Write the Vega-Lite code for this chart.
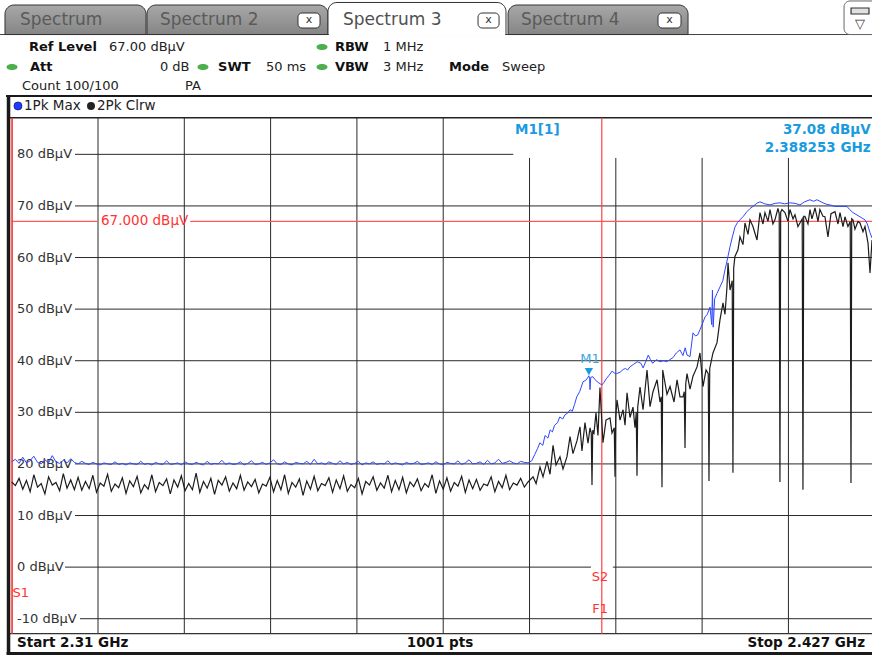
{
"$schema": "https://vega.github.io/schema/vega-lite/v6.json",
"width": 872, "height": 657, "padding": 0, "autosize": {"type": "none"},
"background": "white",
"config": {"view": {"stroke": null}, "axis": {"disable": true}, "text": {"font": "DejaVu Sans"}},
"data": {"values": [{}]},
"datasets": {
"maxhold": [
{"f":2310.0,"v":20.4},{"f":2310.5,"v":20.9},{"f":2311.0,"v":20.1},{"f":2311.5,"v":21.3},{"f":2312.0,"v":20.2},{"f":2312.5,"v":20.6},{"f":2313.0,"v":21.5},{"f":2313.5,"v":20.3},{"f":2314.0,"v":20.0},{"f":2314.5,"v":20.8},
{"f":2315.0,"v":20.2},{"f":2315.5,"v":21.6},{"f":2316.0,"v":20.4},{"f":2316.5,"v":20.1},{"f":2317.0,"v":20.7},{"f":2317.5,"v":20.2},{"f":2318.0,"v":21.0},{"f":2318.5,"v":20.3},{"f":2319.0,"v":20.0},{"f":2319.5,"v":20.5},
{"f":2320.0,"v":20.1},{"f":2320.5,"v":19.9},{"f":2321.0,"v":20.3},{"f":2321.5,"v":20.0},{"f":2322.0,"v":19.8},{"f":2322.5,"v":20.2},{"f":2323.0,"v":20.0},{"f":2323.5,"v":19.9},{"f":2324.0,"v":20.4},{"f":2324.5,"v":19.9},
{"f":2325.0,"v":20.1},{"f":2325.5,"v":19.8},{"f":2326.0,"v":20.2},{"f":2326.5,"v":20.0},{"f":2327.0,"v":19.9},{"f":2327.5,"v":20.5},{"f":2328.0,"v":19.9},{"f":2328.5,"v":20.1},{"f":2329.0,"v":19.8},{"f":2329.5,"v":20.3},
{"f":2330.0,"v":20.0},{"f":2330.5,"v":19.9},{"f":2331.0,"v":20.6},{"f":2331.5,"v":19.9},{"f":2332.0,"v":20.0},{"f":2332.5,"v":20.2},{"f":2333.0,"v":19.8},{"f":2333.5,"v":20.4},{"f":2334.0,"v":20.0},{"f":2334.5,"v":19.9},
{"f":2335.0,"v":20.3},{"f":2335.5,"v":20.0},{"f":2336.0,"v":19.8},{"f":2336.5,"v":20.5},{"f":2337.0,"v":19.9},{"f":2337.5,"v":20.1},{"f":2338.0,"v":20.0},{"f":2338.5,"v":20.7},{"f":2339.0,"v":19.9},{"f":2339.5,"v":20.2},
{"f":2340.0,"v":19.9},{"f":2340.5,"v":20.0},{"f":2341.0,"v":20.4},{"f":2341.5,"v":19.8},{"f":2342.0,"v":20.1},{"f":2342.5,"v":20.6},{"f":2343.0,"v":19.9},{"f":2343.5,"v":20.0},{"f":2344.0,"v":20.3},{"f":2344.5,"v":19.9},
{"f":2345.0,"v":20.2},{"f":2345.5,"v":20.8},{"f":2346.0,"v":20.0},{"f":2346.5,"v":19.9},{"f":2347.0,"v":20.4},{"f":2347.5,"v":20.0},{"f":2348.0,"v":19.8},{"f":2348.5,"v":20.3},{"f":2349.0,"v":20.1},{"f":2349.5,"v":20.0},
{"f":2350.0,"v":20.5},{"f":2350.5,"v":19.9},{"f":2351.0,"v":20.9},{"f":2351.5,"v":20.0},{"f":2352.0,"v":20.2},{"f":2352.5,"v":19.9},{"f":2353.0,"v":20.4},{"f":2353.5,"v":20.1},{"f":2354.0,"v":19.9},{"f":2354.5,"v":20.6},
{"f":2355.0,"v":20.0},{"f":2355.5,"v":20.3},{"f":2356.0,"v":19.9},{"f":2356.5,"v":20.1},{"f":2357.0,"v":20.5},{"f":2357.5,"v":19.8},{"f":2358.0,"v":20.2},{"f":2358.5,"v":20.0},{"f":2359.0,"v":20.4},{"f":2359.5,"v":19.9},
{"f":2360.0,"v":20.1},{"f":2360.5,"v":20.0},{"f":2361.0,"v":20.6},{"f":2361.5,"v":19.9},{"f":2362.0,"v":20.2},{"f":2362.5,"v":20.0},{"f":2363.0,"v":19.8},{"f":2363.5,"v":20.3},{"f":2364.0,"v":20.0},{"f":2364.5,"v":20.1},
{"f":2365.0,"v":20.5},{"f":2365.5,"v":19.9},{"f":2366.0,"v":20.0},{"f":2366.5,"v":20.2},{"f":2367.0,"v":19.9},{"f":2367.5,"v":20.4},{"f":2368.0,"v":20.0},{"f":2368.5,"v":19.8},{"f":2369.0,"v":20.3},{"f":2369.5,"v":20.1},
{"f":2370.0,"v":20.0},{"f":2370.5,"v":20.6},{"f":2371.0,"v":19.9},{"f":2371.5,"v":20.2},{"f":2372.0,"v":20.8},{"f":2372.5,"v":20.0},{"f":2373.0,"v":20.1},{"f":2373.5,"v":20.4},{"f":2374.0,"v":19.9},{"f":2374.5,"v":20.7},
{"f":2375.0,"v":20.0},{"f":2375.5,"v":20.2},{"f":2376.0,"v":20.9},{"f":2376.5,"v":20.1},{"f":2377.0,"v":20.3},{"f":2377.5,"v":20.6},{"f":2378.0,"v":20.2},{"f":2378.5,"v":20.0},{"f":2379.0,"v":20.5},{"f":2379.5,"v":20.3},
{"f":2380.0,"v":20.2},
{"f":2380.5,"v":20.6},{"f":2380.9,"v":21.8},{"f":2381.3,"v":23.0},{"f":2381.6,"v":24.1},{"f":2382.0,"v":23.6},{"f":2382.3,"v":25.5},{"f":2382.7,"v":25.0},{"f":2383.0,"v":26.6},{"f":2383.3,"v":26.2},{"f":2383.6,"v":27.5},
{"f":2384.0,"v":28.0},{"f":2384.3,"v":29.1},{"f":2384.7,"v":28.7},{"f":2385.0,"v":29.5},{"f":2385.4,"v":29.9},{"f":2385.7,"v":30.5},{"f":2386.0,"v":30.2},{"f":2386.3,"v":31.5},{"f":2386.6,"v":33.0},{"f":2387.0,"v":34.0},
{"f":2387.45,"v":35.9},{"f":2387.9,"v":36.3},{"f":2388.25,"v":37.08},{"f":2388.35,"v":36.5},{"f":2388.4,"v":34.4},{"f":2388.5,"v":36.8},{"f":2388.8,"v":36.9},{"f":2389.1,"v":36.3},{"f":2389.5,"v":35.8},{"f":2390.0,"v":35.3},
{"f":2390.3,"v":35.8},{"f":2390.6,"v":36.5},{"f":2391.0,"v":37.2},{"f":2391.4,"v":38.0},{"f":2391.7,"v":37.6},{"f":2392.0,"v":37.5},{"f":2392.5,"v":37.8},{"f":2392.9,"v":38.3},{"f":2393.2,"v":38.5},{"f":2393.5,"v":38.2},
{"f":2393.8,"v":38.8},{"f":2394.3,"v":39.3},{"f":2394.8,"v":39.8},{"f":2395.3,"v":39.5},{"f":2395.6,"v":38.6},{"f":2396.0,"v":40.0},{"f":2396.3,"v":41.1},{"f":2396.6,"v":40.2},{"f":2396.9,"v":39.5},{"f":2397.4,"v":40.2},
{"f":2397.9,"v":39.8},{"f":2398.4,"v":40.0},{"f":2398.8,"v":39.8},{"f":2399.2,"v":40.2},{"f":2399.65,"v":40.6},{"f":2400.1,"v":41.5},{"f":2400.6,"v":42.1},{"f":2401.0,"v":41.0},{"f":2401.3,"v":42.5},{"f":2401.55,"v":41.1},
{"f":2401.96,"v":40.8},{"f":2402.36,"v":45.4},{"f":2402.7,"v":44.8},{"f":2403.0,"v":45.0},{"f":2403.3,"v":46.0},{"f":2403.6,"v":47.0},{"f":2404.0,"v":48.5},{"f":2404.3,"v":49.0},{"f":2404.67,"v":50.4},{"f":2404.9,"v":47.0},
{"f":2405.0,"v":53.7},{"f":2405.1,"v":46.5},{"f":2405.3,"v":52.0},{"f":2405.6,"v":53.0},{"f":2406.02,"v":54.3},{"f":2406.4,"v":55.5},{"f":2406.7,"v":57.6},{"f":2407.0,"v":59.5},{"f":2407.38,"v":62.1},{"f":2407.7,"v":64.0},
{"f":2408.05,"v":65.9},{"f":2408.4,"v":66.8},{"f":2408.73,"v":67.3},{"f":2409.2,"v":68.0},{"f":2409.68,"v":68.9},{"f":2410.1,"v":69.5},{"f":2410.49,"v":69.9},{"f":2411.0,"v":70.5},{"f":2411.44,"v":70.8},{"f":2412.1,"v":70.4},
{"f":2412.8,"v":70.2},{"f":2413.5,"v":70.5},{"f":2414.15,"v":70.6},{"f":2414.8,"v":70.4},{"f":2415.5,"v":70.6},{"f":2416.2,"v":70.5},{"f":2416.86,"v":70.2},{"f":2417.5,"v":70.8},{"f":2418.22,"v":71.2},{"f":2418.7,"v":70.9},
{"f":2419.17,"v":71.2},{"f":2419.98,"v":70.6},{"f":2420.5,"v":70.3},{"f":2420.93,"v":70.2},{"f":2421.6,"v":69.9},{"f":2422.29,"v":69.9},{"f":2423.24,"v":69.9},{"f":2423.6,"v":69.3},{"f":2424.05,"v":68.7},{"f":2425.0,"v":67.9},
{"f":2425.68,"v":67.3},{"f":2426.0,"v":66.5},{"f":2426.36,"v":64.8},{"f":2426.63,"v":63.8}
],
"clrw": [
{"f":2310.0,"v":16.5},{"f":2310.5,"v":15.8},{"f":2311.0,"v":17.2},{"f":2311.5,"v":15.1},{"f":2312.0,"v":16.8},{"f":2312.5,"v":14.6},{"f":2313.0,"v":17.9},{"f":2313.5,"v":15.5},{"f":2314.0,"v":16.2},{"f":2314.5,"v":14.2},
{"f":2315.0,"v":17.5},{"f":2315.5,"v":15.9},{"f":2316.0,"v":16.4},{"f":2316.5,"v":14.8},{"f":2317.0,"v":18.1},{"f":2317.5,"v":15.3},{"f":2318.0,"v":16.9},{"f":2318.5,"v":15.0},{"f":2319.0,"v":17.4},{"f":2319.5,"v":14.9},
{"f":2320.0,"v":16.6},{"f":2320.5,"v":15.2},{"f":2321.0,"v":17.8},{"f":2321.5,"v":14.5},{"f":2322.0,"v":16.3},{"f":2322.5,"v":15.7},{"f":2323.0,"v":18.0},{"f":2323.5,"v":14.7},{"f":2324.0,"v":16.1},{"f":2324.5,"v":15.4},
{"f":2325.0,"v":17.3},{"f":2325.5,"v":14.3},{"f":2326.0,"v":16.7},{"f":2326.5,"v":15.6},{"f":2327.0,"v":17.6},{"f":2327.5,"v":14.4},{"f":2328.0,"v":16.0},{"f":2328.5,"v":15.1},{"f":2329.0,"v":17.9},{"f":2329.5,"v":14.6},
{"f":2330.0,"v":16.4},{"f":2330.5,"v":15.8},{"f":2331.0,"v":17.1},{"f":2331.5,"v":14.2},{"f":2332.0,"v":16.9},{"f":2332.5,"v":15.5},{"f":2333.0,"v":17.7},{"f":2333.5,"v":14.8},{"f":2334.0,"v":16.2},{"f":2334.5,"v":15.0},
{"f":2335.0,"v":18.2},{"f":2335.5,"v":14.5},{"f":2336.0,"v":16.6},{"f":2336.5,"v":15.3},{"f":2337.0,"v":17.2},{"f":2337.5,"v":14.1},{"f":2338.0,"v":16.8},{"f":2338.5,"v":15.9},{"f":2339.0,"v":17.5},{"f":2339.5,"v":14.7},
{"f":2340.0,"v":16.3},{"f":2340.5,"v":15.2},{"f":2341.0,"v":17.8},{"f":2341.5,"v":14.9},{"f":2342.0,"v":16.5},{"f":2342.5,"v":15.6},{"f":2343.0,"v":17.0},{"f":2343.5,"v":14.4},{"f":2344.0,"v":16.1},{"f":2344.5,"v":15.7},
{"f":2345.0,"v":17.4},{"f":2345.5,"v":14.6},{"f":2346.0,"v":16.8},{"f":2346.5,"v":15.0},{"f":2347.0,"v":17.9},{"f":2347.5,"v":14.3},{"f":2348.0,"v":16.4},{"f":2348.5,"v":15.5},{"f":2349.0,"v":17.1},{"f":2349.5,"v":13.9},
{"f":2350.0,"v":16.7},{"f":2350.5,"v":15.1},{"f":2351.0,"v":17.6},{"f":2351.5,"v":14.8},{"f":2352.0,"v":16.2},{"f":2352.5,"v":15.8},{"f":2353.0,"v":17.3},{"f":2353.5,"v":14.5},{"f":2354.0,"v":16.9},{"f":2354.5,"v":15.2},
{"f":2355.0,"v":17.7},{"f":2355.5,"v":14.7},{"f":2356.0,"v":16.0},{"f":2356.5,"v":15.4},{"f":2357.0,"v":17.2},{"f":2357.5,"v":14.2},{"f":2358.0,"v":16.6},{"f":2358.5,"v":15.9},{"f":2359.0,"v":17.5},{"f":2359.5,"v":14.9},
{"f":2360.0,"v":16.3},{"f":2360.5,"v":15.3},{"f":2361.0,"v":17.8},{"f":2361.5,"v":14.6},{"f":2362.0,"v":16.8},{"f":2362.5,"v":15.0},{"f":2363.0,"v":17.4},{"f":2363.5,"v":14.4},{"f":2364.0,"v":16.5},{"f":2364.5,"v":15.6},
{"f":2365.0,"v":17.1},{"f":2365.5,"v":14.8},{"f":2366.0,"v":16.2},{"f":2366.5,"v":15.5},{"f":2367.0,"v":17.9},{"f":2367.5,"v":14.3},{"f":2368.0,"v":16.7},{"f":2368.5,"v":15.1},{"f":2369.0,"v":17.3},{"f":2369.5,"v":14.7},
{"f":2370.0,"v":16.4},{"f":2370.5,"v":15.7},{"f":2371.0,"v":17.6},{"f":2371.5,"v":14.5},{"f":2372.0,"v":16.9},{"f":2372.5,"v":15.2},{"f":2373.0,"v":17.0},{"f":2373.5,"v":14.9},{"f":2374.0,"v":16.1},{"f":2374.5,"v":15.8},
{"f":2375.0,"v":17.5},{"f":2375.5,"v":14.6},{"f":2376.0,"v":16.6},{"f":2376.5,"v":15.4},{"f":2377.0,"v":17.8},{"f":2377.5,"v":15.0},{"f":2378.0,"v":16.3},{"f":2378.5,"v":15.9},{"f":2379.0,"v":17.2},{"f":2379.5,"v":15.5},
{"f":2380.0,"v":16.5},
{"f":2380.68,"v":17.5},{"f":2381.09,"v":16.2},{"f":2381.62,"v":19.4},{"f":2382.03,"v":17.5},{"f":2382.57,"v":20.5},{"f":2382.98,"v":18.0},{"f":2383.39,"v":23.6},{"f":2383.79,"v":19.8},{"f":2384.33,"v":21.4},{"f":2384.74,"v":19.0},
{"f":2385.28,"v":21.4},{"f":2385.69,"v":25.3},{"f":2386.09,"v":22.0},{"f":2386.64,"v":24.5},{"f":2387.04,"v":27.2},{"f":2387.31,"v":22.5},{"f":2387.72,"v":28.0},{"f":2388.13,"v":24.0},{"f":2388.40,"v":27.0},{"f":2388.57,"v":26.0},
{"f":2388.67,"v":15.9},{"f":2388.77,"v":26.5},{"f":2388.94,"v":26.0},{"f":2389.21,"v":29.9},{"f":2389.48,"v":25.5},{"f":2389.75,"v":34.8},{"f":2390.03,"v":27.5},{"f":2390.16,"v":24.1},{"f":2390.57,"v":28.5},{"f":2391.11,"v":28.9},
{"f":2391.38,"v":26.0},{"f":2391.69,"v":27.0},{"f":2391.79,"v":17.5},{"f":2391.89,"v":29.0},{"f":2392.06,"v":32.4},{"f":2392.47,"v":28.5},{"f":2392.88,"v":30.5},{"f":2393.15,"v":27.5},{"f":2393.42,"v":33.8},{"f":2393.82,"v":29.0},
{"f":2394.23,"v":31.0},{"f":2394.50,"v":27.0},{"f":2394.67,"v":30.0},{"f":2394.77,"v":17.7},{"f":2394.87,"v":31.0},{"f":2395.18,"v":34.9},{"f":2395.59,"v":30.5},{"f":2396.13,"v":38.2},{"f":2396.54,"v":31.1},{"f":2396.94,"v":34.0},
{"f":2397.49,"v":36.3},{"f":2397.89,"v":32.0},{"f":2398.06,"v":33.0},{"f":2398.16,"v":15.5},{"f":2398.26,"v":38.2},{"f":2398.84,"v":33.5},{"f":2399.25,"v":35.0},{"f":2399.79,"v":32.0},{"f":2400.20,"v":36.3},{"f":2400.60,"v":33.0},
{"f":2401.01,"v":33.0},{"f":2401.18,"v":34.0},{"f":2401.28,"v":23.1},{"f":2401.38,"v":35.5},{"f":2401.55,"v":37.5},{"f":2401.96,"v":34.5},{"f":2402.36,"v":37.0},{"f":2402.91,"v":38.8},{"f":2403.31,"v":41.5},{"f":2403.72,"v":35.0},
{"f":2404.13,"v":38.2},{"f":2404.43,"v":37.5},{"f":2404.53,"v":16.7},{"f":2404.63,"v":38.5},{"f":2405.07,"v":41.5},{"f":2405.62,"v":43.5},{"f":2406.02,"v":47.9},{"f":2406.43,"v":51.2},{"f":2406.70,"v":49.0},{"f":2406.97,"v":54.3},
{"f":2407.11,"v":59.0},{"f":2407.38,"v":53.7},{"f":2407.68,"v":55.5},{"f":2407.78,"v":18.3},{"f":2407.88,"v":58.0},{"f":2408.05,"v":60.2},{"f":2408.46,"v":61.5},{"f":2408.73,"v":64.0},{"f":2409.14,"v":62.5},{"f":2409.41,"v":66.7},
{"f":2409.82,"v":64.5},{"f":2410.09,"v":67.3},{"f":2410.49,"v":66.0},{"f":2411.04,"v":63.4},{"f":2411.44,"v":68.7},{"f":2411.85,"v":66.5},{"f":2412.12,"v":68.7},{"f":2412.53,"v":67.0},{"f":2412.80,"v":69.3},{"f":2413.20,"v":66.5},
{"f":2413.47,"v":67.3},{"f":2413.88,"v":69.5},{"f":2414.05,"v":68.5},{"f":2414.15,"v":16.5},{"f":2414.25,"v":68.8},{"f":2414.42,"v":69.3},{"f":2414.83,"v":68.7},{"f":2415.24,"v":67.0},{"f":2415.51,"v":69.3},{"f":2415.92,"v":67.5},
{"f":2416.19,"v":68.3},{"f":2416.59,"v":66.0},{"f":2416.86,"v":66.7},{"f":2417.17,"v":67.5},{"f":2417.27,"v":15.0},{"f":2417.37,"v":68.0},{"f":2417.54,"v":68.0},{"f":2417.95,"v":66.5},{"f":2418.22,"v":69.3},{"f":2418.49,"v":67.5},
{"f":2418.90,"v":69.6},{"f":2419.31,"v":67.0},{"f":2419.57,"v":69.3},{"f":2419.98,"v":68.0},{"f":2420.25,"v":67.9},{"f":2420.66,"v":64.0},{"f":2421.07,"v":68.5},{"f":2421.61,"v":68.9},{"f":2422.02,"v":66.5},{"f":2422.29,"v":68.7},
{"f":2422.70,"v":66.0},{"f":2422.97,"v":67.9},{"f":2423.37,"v":66.0},{"f":2423.68,"v":67.0},{"f":2423.78,"v":16.3},{"f":2423.88,"v":67.5},{"f":2424.05,"v":67.3},{"f":2424.32,"v":65.5},{"f":2424.73,"v":67.0},{"f":2425.00,"v":66.7},
{"f":2425.41,"v":65.0},{"f":2425.68,"v":66.0},{"f":2426.09,"v":62.8},{"f":2426.36,"v":57.0},{"f":2426.63,"v":63.4}
]
},
"layer": [
{"data":{"values":[{"f":2321.7},{"f":2333.4},{"f":2345.1},{"f":2356.8},{"f":2368.5}]},
 "mark":{"type":"rule","color":"#2a2a2a","strokeWidth":1},
 "encoding":{"x":{"field":"f","type":"quantitative","scale":{"domain":[2308.414,2426.63],"nice":false,"zero":false}},
  "y":{"datum":87.1,"type":"quantitative","scale":{"domain":[-17.42,109.91],"nice":false,"zero":false}},"y2":{"datum":-12.9}}},
{"data":{"values":[{"f":2380.2},{"f":2391.9},{"f":2403.6},{"f":2415.3}]},
 "mark":{"type":"rule","color":"#2a2a2a","strokeWidth":1},
 "encoding":{"x":{"field":"f","type":"quantitative"},"y":{"datum":79.3,"type":"quantitative"},"y2":{"datum":-12.9}}},
{"data":{"values":[{"v":70},{"v":60},{"v":50},{"v":40},{"v":30},{"v":20},{"v":10}]},
 "mark":{"type":"rule","color":"#2a2a2a","strokeWidth":1},
 "encoding":{"y":{"field":"v","type":"quantitative"},"x":{"datum":2318.58,"type":"quantitative"},"x2":{"datum":2427.2}}},
{"mark":{"type":"rule","color":"#2a2a2a","strokeWidth":1},"encoding":{"y":{"datum":80,"type":"quantitative"},"x":{"datum":2318.58,"type":"quantitative"},"x2":{"datum":2378.0}}},
{"mark":{"type":"rule","color":"#2a2a2a","strokeWidth":1},"encoding":{"y":{"datum":0,"type":"quantitative"},"x":{"datum":2317.23,"type":"quantitative"},"x2":{"datum":2388.53}}},
{"mark":{"type":"rule","color":"#2a2a2a","strokeWidth":1},"encoding":{"y":{"datum":0,"type":"quantitative"},"x":{"datum":2391.5,"type":"quantitative"},"x2":{"datum":2427.2}}},
{"mark":{"type":"rule","color":"#2a2a2a","strokeWidth":1},"encoding":{"y":{"datum":-10,"type":"quantitative"},"x":{"datum":2319.26,"type":"quantitative"},"x2":{"datum":2427.2}}},
{"mark":{"type":"rule","color":"#222222","strokeWidth":1.5},"encoding":{"y":{"datum":87.1,"type":"quantitative"},"x":{"datum":2309.36,"type":"quantitative"},"x2":{"datum":2427.2}}},
{"mark":{"type":"rule","color":"#333333","strokeWidth":1.2},"encoding":{"y":{"datum":-12.9,"type":"quantitative"},"x":{"datum":2309.4,"type":"quantitative"},"x2":{"datum":2427.2}}},
{"mark":{"type":"rule","color":"#1a1a1a","strokeWidth":3},"encoding":{"y":{"datum":-16.74,"type":"quantitative"},"x":{"datum":2309.3,"type":"quantitative"},"x2":{"datum":2427.2}}},
{"mark":{"type":"rule","color":"#1a1a1a","strokeWidth":2},"encoding":{"y":{"datum":91.3,"type":"quantitative"},"x":{"datum":2309.23,"type":"quantitative"},"x2":{"datum":2427.2}}},
{"mark":{"type":"rule","color":"#1a1a1a","strokeWidth":3.5},"encoding":{"x":{"datum":2309.57,"type":"quantitative"},"y":{"datum":91.3,"type":"quantitative"},"y2":{"datum":-16.74}}},
{"mark":{"type":"rule","color":"#444444","strokeWidth":1},"encoding":{"y":{"datum":103.22,"type":"quantitative"},"x":{"datum":2308.4,"type":"quantitative"},"x2":{"datum":2427.2}}},
{"mark":{"type":"rect","stroke":"#333333","strokeWidth":1,"cornerRadiusTopLeft":9,"cornerRadiusTopRight":9,"fill":{"gradient":"linear","x1":0,"y1":0,"x2":0,"y2":1,"stops":[{"offset":0,"color":"#a8a8a8"},{"offset":1,"color":"#858585"}]}},
 "encoding":{"x":{"datum":2309.09,"type":"quantitative"},"x2":{"datum":2328.21},"y":{"datum":108.94,"type":"quantitative"},"y2":{"datum":103.22}}},
{"mark":{"type":"rect","stroke":"#333333","strokeWidth":1,"cornerRadiusTopLeft":9,"cornerRadiusTopRight":9,"fill":{"gradient":"linear","x1":0,"y1":0,"x2":0,"y2":1,"stops":[{"offset":0,"color":"#a8a8a8"},{"offset":1,"color":"#858585"}]}},
 "encoding":{"x":{"datum":2328.34,"type":"quantitative"},"x2":{"datum":2352.88},"y":{"datum":108.94,"type":"quantitative"},"y2":{"datum":103.22}}},
{"mark":{"type":"rect","stroke":"#333333","strokeWidth":1,"cornerRadiusTopLeft":9,"cornerRadiusTopRight":9,"fill":{"gradient":"linear","x1":0,"y1":0,"x2":0,"y2":1,"stops":[{"offset":0,"color":"#a8a8a8"},{"offset":1,"color":"#858585"}]}},
 "encoding":{"x":{"datum":2377.29,"type":"quantitative"},"x2":{"datum":2401.69},"y":{"datum":108.94,"type":"quantitative"},"y2":{"datum":103.22}}},
{"mark":{"type":"rect","stroke":"#333333","strokeWidth":1,"cornerRadiusTopLeft":9,"cornerRadiusTopRight":9,"fill":"#ffffff"},
 "encoding":{"x":{"datum":2352.88,"type":"quantitative"},"x2":{"datum":2377.01},"y":{"datum":109.43,"type":"quantitative"},"y2":{"datum":103.22}}},
{"mark":{"type":"rule","color":"#ffffff","strokeWidth":2.5},"encoding":{"y":{"datum":103.22,"type":"quantitative"},"x":{"datum":2353.0,"type":"quantitative"},"x2":{"datum":2376.9}}},
{"mark":{"type":"rect","stroke":"#666666","strokeWidth":1,"cornerRadius":6,"fill":"#ffffff"},
 "encoding":{"x":{"datum":2422.84,"type":"quantitative"},"x2":{"datum":2427.5},"y":{"datum":109.72,"type":"quantitative"},"y2":{"datum":103.22}}},
{"mark":{"type":"rect","stroke":"#333333","strokeWidth":1.2,"fill":"#e0e0e0"},
 "encoding":{"x":{"datum":2423.79,"type":"quantitative"},"x2":{"datum":2426.22},"y":{"datum":108.36,"type":"quantitative"},"y2":{"datum":107.2}}},
{"mark":{"type":"text","text":"▽","fontSize":13,"color":"#333333","align":"center","baseline":"middle"},"encoding":{"x":{"datum":2425.0,"type":"quantitative"},"y":{"datum":105.3,"type":"quantitative"}}},
{"mark":{"type":"rect","stroke":"#333333","strokeWidth":1,"cornerRadius":4,"fill":"#ffffff"},"encoding":{"x":{"datum":2348.81,"type":"quantitative"},"x2":{"datum":2351.8},"y":{"datum":107.39,"type":"quantitative"},"y2":{"datum":104.48}}},
{"mark":{"type":"rect","stroke":"#333333","strokeWidth":1,"cornerRadius":4,"fill":"#ffffff"},"encoding":{"x":{"datum":2373.22,"type":"quantitative"},"x2":{"datum":2376.07},"y":{"datum":107.39,"type":"quantitative"},"y2":{"datum":104.48}}},
{"mark":{"type":"rect","stroke":"#333333","strokeWidth":1,"cornerRadius":4,"fill":"#ffffff"},"encoding":{"x":{"datum":2397.62,"type":"quantitative"},"x2":{"datum":2400.74},"y":{"datum":107.39,"type":"quantitative"},"y2":{"datum":104.48}}},
{"mark":{"type":"text","text":"x","fontSize":11,"color":"#333333","align":"center","baseline":"middle"},"encoding":{"x":{"datum":2350.3,"type":"quantitative"},"y":{"datum":106.0,"type":"quantitative"}}},
{"mark":{"type":"text","text":"x","fontSize":11,"color":"#333333","align":"center","baseline":"middle"},"encoding":{"x":{"datum":2374.64,"type":"quantitative"},"y":{"datum":106.0,"type":"quantitative"}}},
{"mark":{"type":"text","text":"x","fontSize":11,"color":"#333333","align":"center","baseline":"middle"},"encoding":{"x":{"datum":2399.18,"type":"quantitative"},"y":{"datum":106.0,"type":"quantitative"}}},
{"mark":{"type":"text","text":"Spectrum","fontSize":17,"color":"#5a5a5a","align":"left","baseline":"middle"},"encoding":{"x":{"datum":2311.13,"type":"quantitative"},"y":{"datum":105.94,"type":"quantitative"}}},
{"mark":{"type":"text","text":"Spectrum 2","fontSize":17,"color":"#5a5a5a","align":"left","baseline":"middle"},"encoding":{"x":{"datum":2330.1,"type":"quantitative"},"y":{"datum":105.94,"type":"quantitative"}}},
{"mark":{"type":"text","text":"Spectrum 3","fontSize":17,"color":"#505050","align":"left","baseline":"middle"},"encoding":{"x":{"datum":2354.91,"type":"quantitative"},"y":{"datum":105.94,"type":"quantitative"}}},
{"mark":{"type":"text","text":"Spectrum 4","fontSize":17,"color":"#5a5a5a","align":"left","baseline":"middle"},"encoding":{"x":{"datum":2379.05,"type":"quantitative"},"y":{"datum":105.94,"type":"quantitative"}}},
{"mark":{"type":"point","shape":"M-1,0A1,0.55 0 1,0 1,0A1,0.55 0 1,0 -1,0Z","size":121,"filled":true,"color":"#4cae4c","opacity":1},"encoding":{"x":{"datum":2352.07,"type":"quantitative"},"y":{"datum":100.8,"type":"quantitative"}}},
{"mark":{"type":"point","shape":"M-1,0A1,0.55 0 1,0 1,0A1,0.55 0 1,0 -1,0Z","size":121,"filled":true,"color":"#4cae4c","opacity":1},"encoding":{"x":{"datum":2310.04,"type":"quantitative"},"y":{"datum":96.93,"type":"quantitative"}}},
{"mark":{"type":"point","shape":"M-1,0A1,0.55 0 1,0 1,0A1,0.55 0 1,0 -1,0Z","size":121,"filled":true,"color":"#4cae4c","opacity":1},"encoding":{"x":{"datum":2335.93,"type":"quantitative"},"y":{"datum":96.93,"type":"quantitative"}}},
{"mark":{"type":"point","shape":"M-1,0A1,0.55 0 1,0 1,0A1,0.55 0 1,0 -1,0Z","size":121,"filled":true,"color":"#4cae4c","opacity":1},"encoding":{"x":{"datum":2352.07,"type":"quantitative"},"y":{"datum":96.93,"type":"quantitative"}}},
{"mark":{"type":"text","text":"Ref Level","fontSize":13,"fontWeight":"bold","color":"#111111","align":"left","baseline":"middle"},"encoding":{"x":{"datum":2312.35,"type":"quantitative"},"y":{"datum":100.8,"type":"quantitative"}}},
{"mark":{"type":"text","text":"67.00 dBµV","fontSize":13,"color":"#222222","align":"left","baseline":"middle"},"encoding":{"x":{"datum":2323.2,"type":"quantitative"},"y":{"datum":100.8,"type":"quantitative"}}},
{"mark":{"type":"text","text":"RBW","fontSize":13,"fontWeight":"bold","color":"#111111","align":"left","baseline":"middle"},"encoding":{"x":{"datum":2353.83,"type":"quantitative"},"y":{"datum":100.8,"type":"quantitative"}}},
{"mark":{"type":"text","text":"1 MHz","fontSize":13,"color":"#222222","align":"left","baseline":"middle"},"encoding":{"x":{"datum":2360.34,"type":"quantitative"},"y":{"datum":100.8,"type":"quantitative"}}},
{"mark":{"type":"text","text":"Att","fontSize":13,"fontWeight":"bold","color":"#111111","align":"left","baseline":"middle"},"encoding":{"x":{"datum":2312.48,"type":"quantitative"},"y":{"datum":96.93,"type":"quantitative"}}},
{"mark":{"type":"text","text":"0 dB","fontSize":13,"color":"#222222","align":"left","baseline":"middle"},"encoding":{"x":{"datum":2330.1,"type":"quantitative"},"y":{"datum":96.93,"type":"quantitative"}}},
{"mark":{"type":"text","text":"SWT","fontSize":13,"fontWeight":"bold","color":"#111111","align":"left","baseline":"middle"},"encoding":{"x":{"datum":2337.97,"type":"quantitative"},"y":{"datum":96.93,"type":"quantitative"}}},
{"mark":{"type":"text","text":"50 ms","fontSize":13,"color":"#222222","align":"left","baseline":"middle"},"encoding":{"x":{"datum":2344.47,"type":"quantitative"},"y":{"datum":96.93,"type":"quantitative"}}},
{"mark":{"type":"text","text":"VBW","fontSize":13,"fontWeight":"bold","color":"#111111","align":"left","baseline":"middle"},"encoding":{"x":{"datum":2353.83,"type":"quantitative"},"y":{"datum":96.93,"type":"quantitative"}}},
{"mark":{"type":"text","text":"3 MHz","fontSize":13,"color":"#222222","align":"left","baseline":"middle"},"encoding":{"x":{"datum":2360.34,"type":"quantitative"},"y":{"datum":96.93,"type":"quantitative"}}},
{"mark":{"type":"text","text":"Mode","fontSize":13,"fontWeight":"bold","color":"#111111","align":"left","baseline":"middle"},"encoding":{"x":{"datum":2369.29,"type":"quantitative"},"y":{"datum":96.93,"type":"quantitative"}}},
{"mark":{"type":"text","text":"Sweep","fontSize":13,"color":"#222222","align":"left","baseline":"middle"},"encoding":{"x":{"datum":2376.47,"type":"quantitative"},"y":{"datum":96.93,"type":"quantitative"}}},
{"mark":{"type":"text","text":"Count 100/100","fontSize":13,"color":"#222222","align":"left","baseline":"middle"},"encoding":{"x":{"datum":2311.4,"type":"quantitative"},"y":{"datum":93.24,"type":"quantitative"}}},
{"mark":{"type":"text","text":"PA","fontSize":13,"color":"#222222","align":"left","baseline":"middle"},"encoding":{"x":{"datum":2333.49,"type":"quantitative"},"y":{"datum":93.24,"type":"quantitative"}}},
{"mark":{"type":"point","shape":"circle","size":64,"filled":true,"color":"#1f3cff","opacity":1,"stroke":"#0a1a80","strokeWidth":0.8},"encoding":{"x":{"datum":2310.85,"type":"quantitative"},"y":{"datum":89.37,"type":"quantitative"}}},
{"mark":{"type":"text","text":"1Pk Max","fontSize":13.5,"color":"#222222","align":"left","baseline":"middle"},"encoding":{"x":{"datum":2311.67,"type":"quantitative"},"y":{"datum":89.37,"type":"quantitative"}}},
{"mark":{"type":"point","shape":"circle","size":64,"filled":true,"color":"#222222","opacity":1},"encoding":{"x":{"datum":2320.75,"type":"quantitative"},"y":{"datum":89.37,"type":"quantitative"}}},
{"mark":{"type":"text","text":"2Pk Clrw","fontSize":13.5,"color":"#222222","align":"left","baseline":"middle"},"encoding":{"x":{"datum":2321.56,"type":"quantitative"},"y":{"datum":89.37,"type":"quantitative"}}},
{"data":{"values":[{"v":80},{"v":70},{"v":60},{"v":50},{"v":40},{"v":30},{"v":20},{"v":10},{"v":0},{"v":-10}]},
 "transform":[{"calculate":"datum.v + ' dBµV'","as":"lbl"}],
 "mark":{"type":"text","align":"left","baseline":"middle","fontSize":13,"color":"#333333"},
 "encoding":{"x":{"datum":2310.72,"type":"quantitative"},"y":{"field":"v","type":"quantitative"},"text":{"field":"lbl"}}},
{"mark":{"type":"rule","color":"#ff5a5a","strokeWidth":1.2},"encoding":{"y":{"datum":67,"type":"quantitative"},"x":{"datum":2310.0,"type":"quantitative"},"x2":{"datum":2321.7}}},
{"mark":{"type":"rule","color":"#ff5a5a","strokeWidth":1.2},"encoding":{"y":{"datum":67,"type":"quantitative"},"x":{"datum":2334.2,"type":"quantitative"},"x2":{"datum":2427.2}}},
{"mark":{"type":"text","text":"67.000 dBµV","fontSize":13.5,"color":"#ff3333","align":"left","baseline":"middle"},"encoding":{"x":{"datum":2322.11,"type":"quantitative"},"y":{"datum":67,"type":"quantitative"}}},
{"mark":{"type":"rule","color":"#ff4040","strokeWidth":1.2},"encoding":{"x":{"datum":2390.0,"type":"quantitative"},"y":{"datum":87.1,"type":"quantitative"},"y2":{"datum":-12.9}}},
{"mark":{"type":"rule","color":"#ff3030","strokeWidth":1.6},"encoding":{"x":{"datum":2310.05,"type":"quantitative"},"y":{"datum":87.1,"type":"quantitative"},"y2":{"datum":-12.9}}},
{"data":{"name":"clrw"},"mark":{"type":"line","color":"#1c1c1c","strokeWidth":1.2},
 "encoding":{"x":{"field":"f","type":"quantitative"},"y":{"field":"v","type":"quantitative"}}},
{"data":{"name":"maxhold"},"mark":{"type":"line","color":"#2f47ff","strokeWidth":1},
 "encoding":{"x":{"field":"f","type":"quantitative"},"y":{"field":"v","type":"quantitative"}}},
{"mark":{"type":"text","text":"S1","fontSize":13,"color":"#ff3333","align":"left","baseline":"middle"},"encoding":{"x":{"datum":2310.1,"type":"quantitative"},"y":{"datum":-5.01,"type":"quantitative"}}},
{"mark":{"type":"text","text":"S2","fontSize":13,"color":"#ff3333","align":"center","baseline":"middle"},"encoding":{"x":{"datum":2389.76,"type":"quantitative"},"y":{"datum":-1.82,"type":"quantitative"}}},
{"mark":{"type":"text","text":"F1","fontSize":13,"color":"#ff3333","align":"center","baseline":"middle"},"encoding":{"x":{"datum":2389.76,"type":"quantitative"},"y":{"datum":-8.21,"type":"quantitative"}}},
{"mark":{"type":"point","shape":"triangle-down","size":70,"filled":true,"color":"#1a9be0","opacity":1},"encoding":{"x":{"datum":2388.25,"type":"quantitative"},"y":{"datum":37.9,"type":"quantitative"}}},
{"mark":{"type":"text","text":"M1","fontSize":13,"color":"#3aa8e0","align":"center","baseline":"middle"},"encoding":{"x":{"datum":2388.4,"type":"quantitative"},"y":{"datum":40.43,"type":"quantitative"}}},
{"mark":{"type":"text","text":"M1[1]","fontSize":13.5,"fontWeight":"bold","color":"#1a9be0","align":"left","baseline":"middle"},"encoding":{"x":{"datum":2378.23,"type":"quantitative"},"y":{"datum":84.72,"type":"quantitative"}}},
{"mark":{"type":"text","text":"37.08 dBµV","fontSize":13.5,"fontWeight":"bold","color":"#1a9be0","align":"right","baseline":"middle"},"encoding":{"x":{"datum":2426.45,"type":"quantitative"},"y":{"datum":84.72,"type":"quantitative"}}},
{"mark":{"type":"text","text":"2.388253 GHz","fontSize":13.5,"fontWeight":"bold","color":"#1a9be0","align":"right","baseline":"middle"},"encoding":{"x":{"datum":2426.45,"type":"quantitative"},"y":{"datum":81.23,"type":"quantitative"}}},
{"mark":{"type":"text","text":"Start 2.31 GHz","fontSize":13.5,"fontWeight":"bold","color":"#111111","align":"left","baseline":"middle"},"encoding":{"x":{"datum":2310.72,"type":"quantitative"},"y":{"datum":-14.8,"type":"quantitative"}}},
{"mark":{"type":"text","text":"1001 pts","fontSize":13.5,"fontWeight":"bold","color":"#111111","align":"center","baseline":"middle"},"encoding":{"x":{"datum":2368.06,"type":"quantitative"},"y":{"datum":-14.8,"type":"quantitative"}}},
{"mark":{"type":"text","text":"Stop 2.427 GHz","fontSize":13.5,"fontWeight":"bold","color":"#111111","align":"right","baseline":"middle"},"encoding":{"x":{"datum":2425.68,"type":"quantitative"},"y":{"datum":-14.8,"type":"quantitative"}}}
]
}
